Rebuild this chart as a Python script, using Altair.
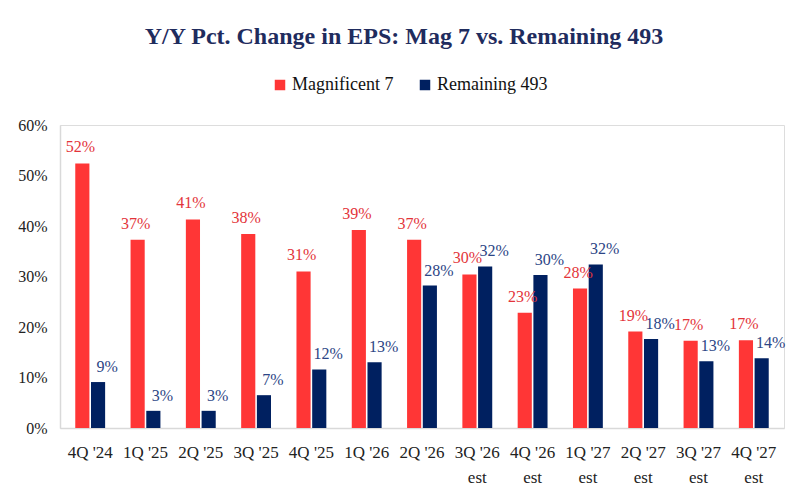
import altair as alt
import pandas as pd

categories = ["4Q '24", "1Q '25", "2Q '25", "3Q '25", "4Q '25", "1Q '26", "2Q '26",
              "3Q '26 est", "4Q '26 est", "1Q '27 est", "2Q '27 est", "3Q '27 est", "4Q '27 est"]
mag7 = [52.4, 37.3, 41.3, 38.4, 31.0, 39.2, 37.3, 30.4, 22.8, 27.6, 19.1, 17.3, 17.4]
rem493 = [9.1, 3.4, 3.4, 6.5, 11.6, 13.0, 28.2, 32.0, 30.3, 32.4, 17.6, 13.2, 13.8]
series_names = ["Magnificent 7", "Remaining 493"]
y_ticks = [0, 10, 20, 30, 40, 50, 60]

rows = []
for i, c in enumerate(categories):
    rows.append({"q": c, "series": series_names[0], "value": mag7[i]})
    rows.append({"q": c, "series": series_names[1], "value": rem493[i]})
df = pd.DataFrame(rows)

RED = "#ff3636"
NAVY = "#002060"
RED_LBL = "#e3343a"
NAVY_LBL = "#2c4585"
FONT = "'Liberation Serif', 'Times New Roman', serif"

x = alt.X(
    "q:N", sort=categories,
    scale=alt.Scale(paddingInner=0.46, paddingOuter=0.276),
    axis=alt.Axis(
        title=None, labelAngle=0, labelFont=FONT, labelFontSize=17, labelColor="#222222",
        labelPadding=16, labelLineHeight=25, ticks=False, domainColor="#d9d9d9", domainWidth=1.5,
        labelExpr="indexof(datum.label, ' est') > 0 ? [replace(datum.label, ' est', ''), 'est'] : datum.label",
    ),
)
y = alt.Y(
    "value:Q", scale=alt.Scale(domain=[0, 60]),
    axis=alt.Axis(
        title=None, values=y_ticks, labelExpr="datum.value + '%'", grid=False, ticks=False,
        domainColor="#d9d9d9", domainWidth=1.5, labelFont=FONT, labelFontSize=16,
        labelPadding=13, labelColor="#222222",
    ),
)
xoff = alt.XOffset("series:N", scale=alt.Scale(domain=series_names, paddingInner=0.1))

bars = alt.Chart(df).mark_bar().encode(
    x=x, xOffset=xoff, y=y,
    color=alt.Color(
        "series:N", scale=alt.Scale(domain=series_names, range=[RED, NAVY]),
        legend=alt.Legend(
            title=None, orient="none", legendX=211, legendY=-49, direction="horizontal",
            symbolType="square", symbolSize=110, symbolStrokeWidth=0, labelFont=FONT,
            labelFontSize=18, labelColor="#111111", columnPadding=22, labelOffset=3, padding=0,
        ),
    ),
)

label_text = "format(datum.value, '.0f') + '%'"
lbl_red = alt.Chart(df).transform_filter(alt.datum.series == series_names[0]).transform_calculate(
    txt=label_text
).mark_text(font=FONT, fontSize=16, color=RED_LBL, baseline="alphabetic", dy=-11, dx=-2).encode(
    x=x, xOffset=xoff, y=y, text="txt:N"
)
lbl_navy = alt.Chart(df).transform_filter(alt.datum.series == series_names[1]).transform_calculate(
    txt=label_text
).mark_text(font=FONT, fontSize=16, color=NAVY_LBL, baseline="alphabetic", dy=-10, dx=9).encode(
    x=x, xOffset=xoff, y=y, text="txt:N"
)

chart = alt.layer(bars, lbl_red, lbl_navy).properties(
    width=724, height=303,
    title=alt.Title(
        "Y/Y Pct. Change in EPS: Mag 7 vs. Remaining 493", font=FONT, fontSize=24,
        fontWeight="bold", color="#1f2c5e", anchor="middle", frame="group", dx=-18,
        offset=8, baseline="alphabetic",
    ),
    autosize=alt.AutoSizeParams(type="none"),
    padding={"left": 52, "top": 117, "right": 16, "bottom": 62},
).configure_view(stroke=None).configure(background="white")

chart.save("out.html", embed_options={"renderer": "svg", "actions": False})
